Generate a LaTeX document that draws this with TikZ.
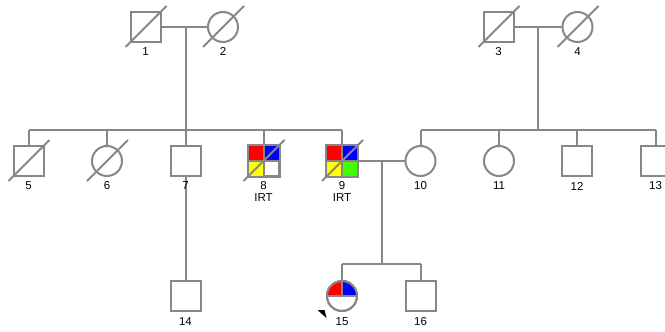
\documentclass[tikz,border=0pt]{standalone}
\usepackage{fontspec}
\setmainfont{Liberation Sans}
\definecolor{pline}{RGB}{135,135,135}
\definecolor{pred}{RGB}{255,0,0}
\definecolor{pblue}{RGB}{0,0,255}
\definecolor{pyellow}{RGB}{255,255,0}
\definecolor{pgreen}{RGB}{64,255,0}
\tikzset{
  x=1pt, y=-1pt,
  lw/.style={draw=pline, line width=2pt},
  male/.style={lw, rectangle, minimum size=30pt, inner sep=0pt, fill=white},
  female/.style={lw, circle, minimum size=30pt, inner sep=0pt, fill=white},
  conn/.style={lw},
  lbl/.style={font=\fontsize{11.5}{13}\selectfont, inner sep=0pt, anchor=center},
}
\newcommand{\deceased}[1]{\draw[lw] ($(#1.center)+(-20,20)$) -- ($(#1.center)+(21,-21)$);}
\usetikzlibrary{calc}
\begin{document}
\begin{tikzpicture}
\useasboundingbox (0,0) rectangle (665,332);
\begin{scope}
\clip (0,0) rectangle (665,332);
% generation I
\node[male] (i1) at (145.5,27) {};
\node[female] (i2) at (223,27) {};
\node[male] (i3) at (498.5,27) {};
\node[female] (i4) at (577.5,27) {};
% generation II
\node[male] (i5) at (28.5,161) {};
\node[female] (i6) at (107,161) {};
\node[male] (i7) at (185.5,161) {};
\node[male] (i8) at (263.5,161) {};
\node[male] (i9) at (342,161) {};
\node[female] (i10) at (420.5,161) {};
\node[female] (i11) at (499,161) {};
\node[male] (i12) at (577,161) {};
\node[male] (i13) at (655.5,161) {};
% generation III
\node[male] (i14) at (185.5,296) {};
\node[female] (i15) at (342,296) {};
\node[male] (i16) at (420.5,296) {};

% colored quadrants of 8
\fill[pred] (i8.north west) rectangle (i8.center);
\fill[pblue] (i8.north) rectangle (i8.east);
\fill[pyellow] (i8.west) rectangle (i8.south);
\draw[lw] (i8.north west) rectangle (i8.south east);
\draw[lw] (i8.north) -- (i8.south) (i8.west) -- (i8.east);
% colored quadrants of 9
\fill[pred] (i9.north west) rectangle (i9.center);
\fill[pblue] (i9.north) rectangle (i9.east);
\fill[pyellow] (i9.west) rectangle (i9.south);
\fill[pgreen] (i9.center) rectangle (i9.south east);
\draw[lw] (i9.north west) rectangle (i9.south east);
\draw[lw] (i9.north) -- (i9.south) (i9.west) -- (i9.east);
% 15 half circle
\fill[pred] (i15.center) -- (i15.west) arc[start angle=180, end angle=90, radius=15pt] -- cycle;
\fill[pblue] (i15.center) -- (i15.north) arc[start angle=90, end angle=0, radius=15pt] -- cycle;
\draw[lw] (i15.center) circle[radius=15pt];
\draw[lw] (i15.west) -- (i15.east) (i15.center) -- (i15.north);

% deceased slashes
\deceased{i1}
\deceased{i2}
\deceased{i3}
\deceased{i4}
\deceased{i5}
\deceased{i6}
\deceased{i8}
\deceased{i9}

% connectors
\coordinate (m12) at (186,27);
\coordinate (s1L) at (28.5,130);
\coordinate (s1R) at (342,130);
\draw[conn] (i1.east) -- (i2.west);
\draw[conn] (m12) -- (m12 |- s1L);
\draw[conn] (s1L) -- (s1R);
\foreach \c in {i5,i6,i7,i8,i9} \draw[conn] (\c.north) -- (\c.north |- s1L);

\coordinate (m34) at (538,27);
\coordinate (s2L) at (420.5,130);
\coordinate (s2R) at (655.5,130);
\draw[conn] (i3.east) -- (i4.west);
\draw[conn] (m34) -- (m34 |- s2L);
\draw[conn] (s2L) -- (s2R);
\foreach \c in {i10,i11,i12,i13} \draw[conn] (\c.north) -- (\c.north |- s2L);

\draw[conn] (i7.south) -- (i14.north);

\coordinate (m910) at (381.5,161);
\coordinate (s3L) at (342,264);
\coordinate (s3R) at (420.5,264);
\draw[conn] (i9.east) -- (i10.west);
\draw[conn] (m910) -- (m910 |- s3L);
\draw[conn] (s3L) -- (s3R);
\foreach \c in {i15,i16} \draw[conn] (\c.north) -- (\c.north |- s3L);

% proband arrow head
\fill[black] (317.5,310) -- (324.5,310) -- (326.5,318) -- cycle;

% labels
\foreach \c/\t in {i1/1,i2/2,i3/3,i4/4} \node[lbl] at ($(\c.center)+(0,24.5)$) {\t};
\foreach \c/\t in {i5/5,i6/6,i7/7,i8/8,i9/9,i10/10,i11/11,i12/12,i13/13} \node[lbl] at ($(\c.center)+(0,25)$) {\t};
\node[lbl] at ($(i8.center)+(0,37)$) {IRT};
\node[lbl] at ($(i9.center)+(0,37)$) {IRT};
\foreach \c/\t in {i14/14,i15/15,i16/16} \node[lbl] at ($(\c.center)+(0,25.5)$) {\t};
\end{scope}
\end{tikzpicture}
\end{document}
